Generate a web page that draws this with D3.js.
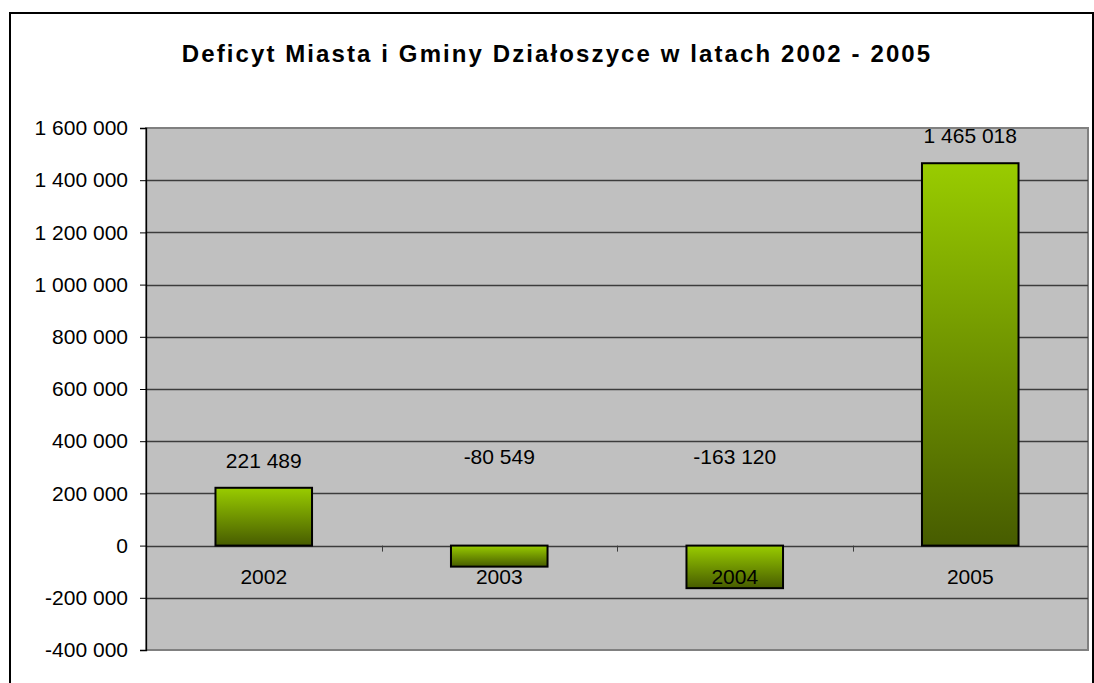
<!DOCTYPE html>
<html>
<head>
<meta charset="utf-8">
<script src="https://cdn.jsdelivr.net/npm/d3@7"></script>
<style>
  body { margin: 0; background: #fff; }
  svg { display: block; font-family: "Liberation Sans", Arial, sans-serif; }
</style>
</head>
<body>
<div class="chart"></div>
<script>
var years = ["2002", "2003", "2004", "2005"];
var deficit = [221489, -80549, -163120, 1465018];
var yTicks = [-400000, -200000, 0, 200000, 400000, 600000, 800000, 1000000, 1200000, 1400000, 1600000];
var title = "Deficyt Miasta i Gminy Działoszyce w latach 2002 - 2005";

var width = 1094,
    height = 683,
    margin = {top: 128, right: 6, bottom: 33, left: 146};

var fmt = function(v) {
  var s = d3.format(",")(v).replace(/,/g, " ");
  return s.replace("−", "-");
};

var svg = d3.select(".chart")
    .append("svg")
    .attr("width", width)
    .attr("height", height);

var defs = svg.append("defs");
var grad = defs.append("linearGradient")
    .attr("id", "barGrad")
    .attr("x1", 0).attr("y1", 0).attr("x2", 0).attr("y2", 1);
grad.append("stop").attr("offset", "0%").attr("stop-color", "#99cc00");
grad.append("stop").attr("offset", "100%").attr("stop-color", "#475c00");

// outer frame
svg.append("rect")
    .attr("x", 10)
    .attr("y", 13)
    .attr("width", 1083)
    .attr("height", 700)
    .attr("fill", "#fff")
    .attr("stroke", "#000")
    .attr("stroke-width", 2);

svg.append("text")
    .attr("x", 557)
    .attr("y", 62)
    .attr("text-anchor", "middle")
    .attr("font-size", "24px")
    .attr("font-weight", "bold")
    .attr("letter-spacing", "2.1px")
    .text(title);

var x = d3.scaleBand()
    .domain(years)
    .range([margin.left, width - margin.right])
    .paddingInner(0.59)
    .paddingOuter(0.295);

var xOuter = d3.scaleBand()
    .domain(years)
    .range([margin.left, width - margin.right]);

var y = d3.scaleLinear()
    .domain([-400000, 1600000])
    .range([height - margin.bottom, margin.top]);

// plot area
svg.append("rect")
    .attr("x", margin.left)
    .attr("y", margin.top)
    .attr("width", width - margin.right - margin.left)
    .attr("height", y(-400000) - margin.top)
    .attr("fill", "#c0c0c0")
    .attr("stroke", "#808080")
    .attr("stroke-width", 2);

// gridlines
svg.append("g")
    .selectAll("line")
    .data(yTicks.filter(function(d){ return d > -400000 && d < 1600000; }))
    .enter()
    .append("line")
    .attr("x1", margin.left)
    .attr("x2", width - margin.right)
    .attr("y1", function(d){ return Math.round(y(d)) + 0.5; })
    .attr("y2", function(d){ return Math.round(y(d)) + 0.5; })
    .attr("stroke", "#3c3c3c")
    .attr("stroke-width", 1.3);

// y axis
var yAxis = svg.append("g")
    .attr("transform", "translate(" + margin.left + ",0)")
    .call(d3.axisLeft(y).tickValues(yTicks).tickSize(6).tickPadding(12).tickFormat(fmt));
yAxis.select(".domain").attr("stroke", "#000").attr("stroke-width", 1.3);
yAxis.selectAll(".tick line").attr("stroke", "#000");
yAxis.selectAll("text")
    .attr("font-size", "21px")
    .attr("font-family", "Liberation Sans, Arial, sans-serif")
    .attr("fill", "#000");

// category ticks on zero line
svg.append("g")
    .selectAll("line")
    .data(years.slice(1))
    .enter()
    .append("line")
    .attr("x1", function(d){ return Math.round(xOuter(d)) + 0.5; })
    .attr("x2", function(d){ return Math.round(xOuter(d)) + 0.5; })
    .attr("y1", y(0))
    .attr("y2", y(0) + 6)
    .attr("stroke", "#3c3c3c");

// bars
svg.append("g")
    .selectAll("rect")
    .data(deficit)
    .enter()
    .append("rect")
    .attr("x", function(d, i){ return x(years[i]); })
    .attr("width", x.bandwidth())
    .attr("y", function(d){ return y(Math.max(d, 0)); })
    .attr("height", function(d){ return Math.abs(y(d) - y(0)); })
    .attr("fill", "url(#barGrad)")
    .attr("stroke", "#000")
    .attr("stroke-width", 2);

// category labels
svg.append("g")
    .selectAll("text")
    .data(years)
    .enter()
    .append("text")
    .attr("x", function(d){ return x(d) + x.bandwidth() / 2; })
    .attr("y", y(0) + 38)
    .attr("text-anchor", "middle")
    .attr("font-size", "21px")
    .text(function(d){ return d; });

// value labels
svg.append("g")
    .selectAll("text")
    .data(deficit)
    .enter()
    .append("text")
    .attr("x", function(d, i){ return x(years[i]) + x.bandwidth() / 2; })
    .attr("y", function(d){ return d >= 0 ? y(d) - 20 : y(0) - 82; })
    .attr("text-anchor", "middle")
    .attr("font-size", "21px")
    .text(fmt);
</script>
</body>
</html>
